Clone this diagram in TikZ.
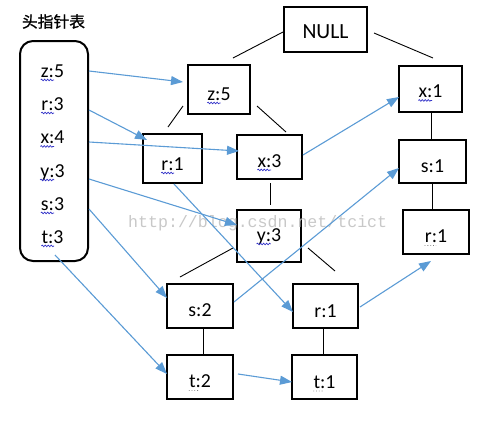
\documentclass[tikz,border=0pt]{standalone}
\usepackage{fontspec}
\setmainfont{Carlito}
\newfontfamily\cjkhead{Noto Sans CJK SC}[FakeBold=1]
\newfontfamily\wmfont{Liberation Mono}
\usetikzlibrary{arrows.meta,calc,decorations.pathmorphing}
\definecolor{linkblue}{RGB}{91,155,213}
\definecolor{wavyblue}{RGB}{50,50,200}
\definecolor{wmgray}{RGB}{200,200,200}
\newcommand\wav[1]{\draw[squig] ($(#1.south west)+(0,2.5)$) -- ($(#1.south west)!0.57!(#1.south east)+(0,2.5)$);}
\newcommand\dotu[1]{\draw[dotsq] ($(#1.south west)+(0,2.5)$) -- ($(#1.south west)!0.5!(#1.south east)+(0,2.5)$);}
\begin{document}
\begin{tikzpicture}[x=1pt,y=-1pt,
 treebox/.style={draw, line width=2pt, inner sep=0pt},
 lab/.style={font=\fontsize{19.8}{20}\selectfont, inner sep=0pt, text height=12.5pt, text depth=0pt},
 nulllab/.style={font=\fontsize{21.6}{22}\selectfont, inner sep=0pt, text height=13.9pt, text depth=0pt},
 tedge/.style={line width=0.9pt},
 link/.style={draw=linkblue, line width=1.1pt, -{Triangle[length=12pt,width=9pt]}},
 squig/.style={draw=wavyblue, line width=0.7pt, decorate, decoration={snake, amplitude=0.8pt, segment length=3pt}},
 dotsq/.style={draw=gray, line width=0.8pt, dotted}]
\useasboundingbox (0,0) rectangle (496,421);

% header table
\node[font=\cjkhead\fontsize{15.75}{16}\selectfont, inner sep=0pt] (hdr) at (53.5,21.5) {头指针表};
\node[draw, line width=2pt, rounded corners=13pt, minimum width=68pt, minimum height=220pt] (tab) at (54,151) {};
\node[lab] (hz) at (52.5,71) {z:5};
\node[lab] (hr) at (52.5,104) {r:3};
\node[lab] (hx) at (52.5,137.5) {x:4};
\node[lab] (hy) at (52.5,171) {y:3};
\node[lab] (hs) at (52.5,204) {s:3};
\node[lab] (ht) at (52.5,237) {t:3};
\coordinate (tstart) at (55,255);

% tree boxes
\node[treebox, minimum width=83pt, minimum height=45pt] (null) at (325.5,29.5) {};
\node[treebox, minimum width=62pt, minimum height=49pt] (z5) at (219,89.5) {};
\node[treebox, minimum width=59pt, minimum height=49pt] (r1a) at (172.5,158.5) {};
\node[treebox, minimum width=65pt, minimum height=44pt] (x3) at (269.5,157) {};
\node[treebox, minimum width=63pt, minimum height=46pt] (x1) at (430.5,89) {};
\node[treebox, minimum width=67pt, minimum height=43pt] (s1) at (432.5,161.5) {};
\node[treebox, minimum width=66pt, minimum height=44pt] (r1c) at (436,232) {};
\node[treebox, minimum width=64pt, minimum height=52pt] (y3) at (269,236) {};
\node[treebox, minimum width=66pt, minimum height=44pt] (s2) at (200,306) {};
\node[treebox, minimum width=66pt, minimum height=44pt] (t2) at (200,377) {};
\node[treebox, minimum width=65pt, minimum height=44pt] (r1b) at (325.5,306) {};
\node[treebox, minimum width=65pt, minimum height=44pt] (t1) at (324.5,377) {};

% box texts
\node[nulllab] (lnull) at ($(null)+(0,2.5)$) {NULL};
\node[lab] (lz5) at ($(z5)+(0,4.5)$) {z:5};
\node[lab] (lr1a) at ($(r1a)+(0,5.5)$) {r:1};
\node[lab] (lx3) at ($(x3)+(0,4)$) {x:3};
\node[lab] (lx1) at ($(x1)+(0,2.5)$) {x:1};
\node[lab] (ls1) at ($(s1)+(0,5)$) {s:1};
\node[lab] (lr1c) at ($(r1c)+(0,4.5)$) {r:1};
\node[lab] (ly3) at ($(y3)+(0,-1)$) {y:3};
\node[lab] (ls2) at ($(s2)+(0,4.5)$) {s:2};
\node[lab] (lt2) at ($(t2)+(0,4.5)$) {t:2};
\node[lab] (lr1b) at ($(r1b)+(0,5.5)$) {r:1};
\node[lab] (lt1) at ($(t1)+(0,5)$) {t:1};

% spelling marks
\wav{hz}\wav{hr}\wav{hx}\wav{hy}\wav{hs}\wav{ht}
\wav{lz5}\wav{lr1a}\wav{lx3}\wav{lx1}\wav{ly3}
\dotu{lt2}\dotu{lr1c}\dotu{lt1}

% tree edges (with gaps)
\coordinate (e1a) at (283,32);  \coordinate (e1b) at (233,58);
\coordinate (e2a) at (374,33);  \coordinate (e2b) at (433,58);
\coordinate (e3a) at (183,106); \coordinate (e3b) at (168,127);
\coordinate (e4a) at (257,106); \coordinate (e4b) at (286,132);
\coordinate (e5a) at (270,183); \coordinate (e5b) at (270,205);
\coordinate (e6a) at (233,248); \coordinate (e6b) at (180,277);
\coordinate (e7a) at (308,248); \coordinate (e7b) at (335,271);
\draw[tedge] (e1a) -- (e1b);
\draw[tedge] (e2a) -- (e2b);
\draw[tedge] (e3a) -- (e3b);
\draw[tedge] (e4a) -- (e4b);
\draw[tedge] (e5a) -- (e5b);
\draw[tedge] (e6a) -- (e6b);
\draw[tedge] (e7a) -- (e7b);
\draw[tedge] (x1.south -| 431,0) -- (s1.north -| 431,0);
\draw[tedge] (s1.south -| 432,0) -- (r1c.north -| 432,0);
\draw[tedge] (s2.south -| 203,0) -- (t2.north -| 203,0);
\draw[tedge] (r1b.south -| 323,0) -- (t1.north -| 323,0);

% watermark
\node[font=\wmfont\fontsize{16.6}{17}\selectfont, text=wmgray, anchor=base west, inner sep=0pt] (wm) at (128,227) {http://blog.csdn.net/tcict};

% node links
\draw[link] (tab.east |- 0,71) -- (183,82);
\draw[link] (tab.east |- 0,110) -- (147,140);
\draw[link] (tab.east |- 0,142) -- (239,151);
\draw[link] (tab.east |- 0,179) -- (237,225);
\draw[link] (tab.east |- 0,209) -- (167,298);
\draw[link] (tstart) -- (167,374);
\draw[link] (r1a.south -| 174,0) -- (293,312);
\draw[link] (x3.east |- 0,155) -- (399,97);
\draw[link] (s2.east |- 0,302) -- (399,168);
\draw[link] (360,307) -- (431,261);
\draw[link] (t2.east |- 0,374) ++(4,0) -- (292,382);
\end{tikzpicture}
\end{document}
